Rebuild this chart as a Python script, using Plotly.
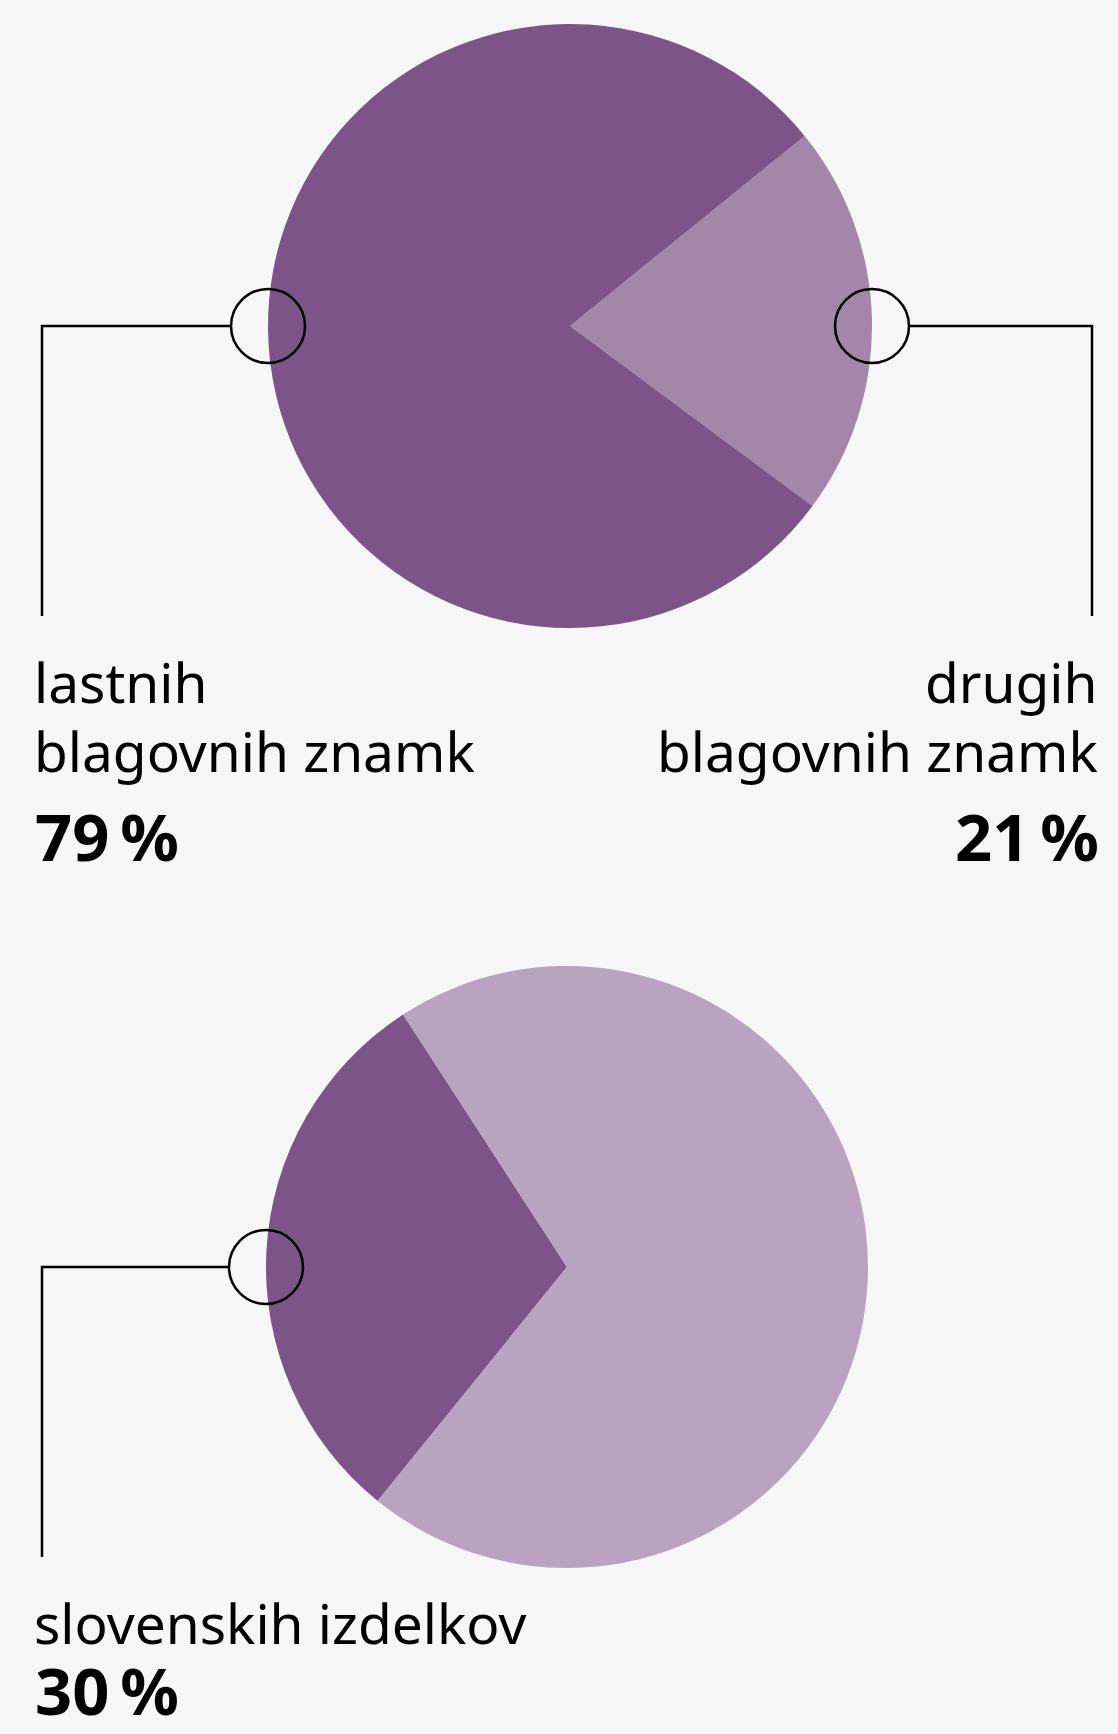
import plotly.graph_objects as go

W, H = 1118, 1734

# ---- data ----
brand_labels = ["drugih blagovnih znamk", "lastnih blagovnih znamk"]
brand_values = [21, 79]
origin_labels = ["slovenskih izdelkov", "drugih izdelkov"]
origin_values = [30, 70]

DARK = "#7c5487"
LIGHT_TOP = "#a386aa"
LIGHT_BOT = "#b9a3c0"
BG = "#f6f6f6"
FONT = "Noto Sans"

# pie geometry (pixels)
top_c, top_r = (570, 326), 302
bot_c, bot_r = (567, 1267), 301
ring_r = 37


def domain(c, r):
    cx, cy = c
    return dict(x=[(cx - r) / W, (cx + r) / W],
                y=[1 - (cy + r) / H, 1 - (cy - r) / H])


fig = go.Figure()
fig.add_trace(go.Pie(
    labels=brand_labels, values=brand_values, sort=False,
    direction="clockwise", rotation=51,
    marker=dict(colors=[LIGHT_TOP, DARK], line=dict(width=0)),
    textinfo="none", hoverinfo="label+percent", showlegend=False,
    domain=domain(top_c, top_r)))
fig.add_trace(go.Pie(
    labels=origin_labels, values=origin_values, sort=False,
    direction="clockwise", rotation=219,
    marker=dict(colors=[DARK, LIGHT_BOT], line=dict(width=0)),
    textinfo="none", hoverinfo="label+percent", showlegend=False,
    domain=domain(bot_c, bot_r)))

shapes = []
line = dict(color="black", width=2.5)


def ring(cx, cy):
    shapes.append(dict(type="circle", xref="x", yref="y",
                       x0=cx - ring_r, x1=cx + ring_r, y0=cy - ring_r, y1=cy + ring_r,
                       line=line, fillcolor="rgba(0,0,0,0)", layer="above"))


LEFT_X, RIGHT_X = 42, 1092

# top left callout
cx, cy = top_c
ring(cx - top_r, cy)
shapes.append(dict(type="path", xref="x", yref="y", layer="above",
                   path=f"M {cx - top_r - ring_r},{cy} L {LEFT_X},{cy} L {LEFT_X},616", line=line))
# top right callout
ring(cx + top_r, cy)
shapes.append(dict(type="path", xref="x", yref="y", layer="above",
                   path=f"M {cx + top_r + ring_r},{cy} L {RIGHT_X},{cy} L {RIGHT_X},616", line=line))
# bottom left callout
bx, by = bot_c
ring(bx - bot_r, by)
shapes.append(dict(type="path", xref="x", yref="y", layer="above",
                   path=f"M {bx - bot_r - ring_r},{by} L {LEFT_X},{by} L {LEFT_X},1557", line=line))

REG = 55
BOLD = 65
annotations = []


def txt(text, x, baseline, size, bold=False, align="left"):
    annotations.append(dict(
        text=f"<b>{text}</b>" if bold else text,
        x=x, y=baseline - 1.069 * size, xref="x", yref="y",
        xanchor=align, yanchor="top", showarrow=False, borderpad=0,
        font=dict(family=FONT, size=size, color="black")))


txt("lastnih", 33, 702, REG)
txt("blagovnih znamk", 33, 771, REG)
txt(f"{brand_values[1]}\u2009%", 34, 860, BOLD, bold=True)

txt("drugih", 1099, 702, REG, align="right")
txt("blagovnih znamk", 1099, 771, REG, align="right")
txt(f"{brand_values[0]}\u2009%", 1100, 860, BOLD, bold=True, align="right")

txt("slovenskih izdelkov", 33, 1643, REG)
txt(f"{origin_values[0]}\u2009%", 34, 1714, BOLD, bold=True)

fig.update_layout(
    width=W, height=H, margin=dict(l=0, r=0, t=0, b=0),
    paper_bgcolor=BG, plot_bgcolor="rgba(0,0,0,0)",
    xaxis=dict(range=[0, W], visible=False, fixedrange=True, domain=[0, 1]),
    yaxis=dict(range=[H, 0], visible=False, fixedrange=True, domain=[0, 1]),
    shapes=shapes, annotations=annotations, showlegend=False)

fig.write_html("out.html", config={"displayModeBar": False},
               post_script="document.body.style.margin='0';document.body.style.overflow='hidden';")
